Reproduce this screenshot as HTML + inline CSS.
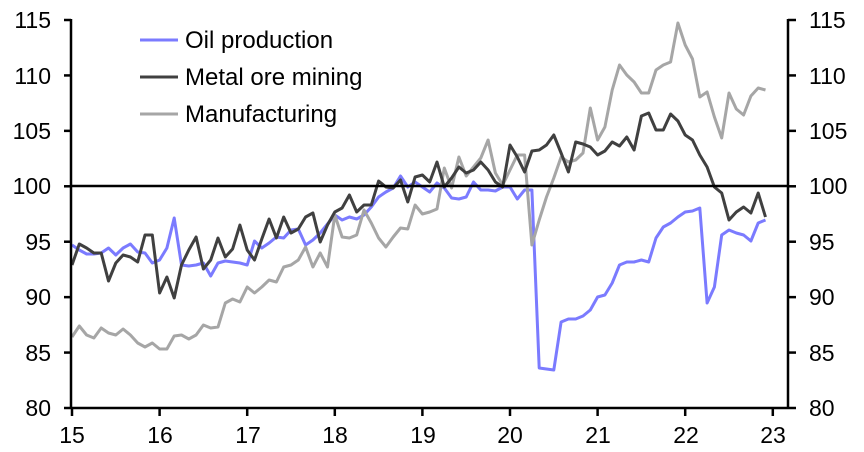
<!DOCTYPE html>
<html><head><meta charset="utf-8"><style>body{margin:0;background:#fff}svg{display:block;font-family:"Liberation Sans",Arial,sans-serif}</style></head><body>
<svg id="s" width="864" height="452" viewBox="0 0 864 452" xmlns="http://www.w3.org/2000/svg">
<g id="g"></g>
<g font-size="23" fill="#000">
<text x="51" y="28" text-anchor="end">115</text><text x="51" y="84" text-anchor="end">110</text><text x="51" y="139" text-anchor="end">105</text><text x="51" y="194" text-anchor="end">100</text><text x="51" y="250" text-anchor="end">95</text><text x="51" y="305" text-anchor="end">90</text><text x="51" y="361" text-anchor="end">85</text><text x="51" y="416" text-anchor="end">80</text>
<text x="809" y="28">115</text><text x="809" y="84">110</text><text x="809" y="139">105</text><text x="809" y="194">100</text><text x="809" y="250">95</text><text x="809" y="305">90</text><text x="809" y="361">85</text><text x="809" y="416">80</text>
<text x="72" y="443" text-anchor="middle">15</text><text x="160" y="443" text-anchor="middle">16</text><text x="248" y="443" text-anchor="middle">17</text><text x="335" y="443" text-anchor="middle">18</text><text x="423" y="443" text-anchor="middle">19</text><text x="510" y="443" text-anchor="middle">20</text><text x="598" y="443" text-anchor="middle">21</text><text x="686" y="443" text-anchor="middle">22</text><text x="773" y="443" text-anchor="middle">23</text>
</g>
<g font-size="24" fill="#000">
<text x="185" y="48">Oil production</text><text x="185" y="85">Metal ore mining</text><text x="185" y="122">Manufacturing</text>
</g>
<line x1="140" y1="40" x2="178" y2="40" stroke="#7b7bff" stroke-width="3"/>
<line x1="140" y1="77" x2="178" y2="77" stroke="#404040" stroke-width="3"/>
<line x1="140" y1="114" x2="178" y2="114" stroke="#a6a6a6" stroke-width="3"/>
</svg>
<script>
var oil=[245,250,254,254,253,248,255,248,244,252,253,263,260,248,218,265,266,265,263,276,263,261,262,263,265,241,248,243,237,238,230,229,245,240,233,224,215,220,217,219,215,207,197,192,188,176,187,182,187,192,183,188,198,199,197,182,190,190,191,187,187,199,190,190,368,369,370,322,319,319,316,310,297,295,283,265,262,262,260,262,238,227,223,217,212,211,208,303,287,235,230,233,235,241,223,220];
var met=[265,244,248,253,253,281,263,255,257,262,235,235,293,277,298,265,250,237,269,260,238,257,249,225,250,260,239,219,238,217,233,229,217,213,242,225,212,208,195,212,205,205,181,187,188,180,202,177,175,182,162,187,178,167,173,170,162,170,182,187,145,157,172,151,150,145,135,153,172,142,144,147,155,151,142,146,137,150,116,113,130,130,114,121,135,140,155,167,187,193,220,212,207,213,193,217];
var man=[337,326,335,338,328,333,335,329,335,343,347,343,349,349,336,335,339,335,325,328,327,303,299,302,287,293,287,280,282,267,265,260,247,267,253,267,215,237,238,235,210,223,238,247,237,228,229,205,214,212,209,168,188,157,176,167,158,140,173,185,170,155,155,245,220,197,178,157,162,160,153,108,140,127,90,65,75,82,93,93,70,65,62,23,45,59,97,92,117,138,93,109,115,96,88,90];
var ns="http://www.w3.org/2000/svg",g=document.getElementById("g");
function el(t,a){var e=document.createElementNS(ns,t);for(var k in a)e.setAttribute(k,a[k]);g.appendChild(e);return e;}
var X0=71,X1=788,Y0=20,Y1=408;
for(var v=0;v<=7;v++){var y=Y0+v*(Y1-Y0)/7;el("line",{x1:64,x2:X0,y1:y,y2:y,stroke:"#000","stroke-width":2.5});el("line",{x1:X1,x2:X1+8,y1:y,y2:y,stroke:"#000","stroke-width":2.5});}
for(var yr=0;yr<=8;yr++){var x=72+yr*87.6;el("line",{x1:x,x2:x,y1:Y1,y2:Y1+8,stroke:"#000","stroke-width":2.5});}
function pl(d,c){el("polyline",{points:d.map(function(y,i){return (72+i*7.3).toFixed(1)+","+y}).join(" "),fill:"none",stroke:c,"stroke-width":3,"stroke-linejoin":"round"});}
pl(oil,"#7b7bff");pl(man,"#a6a6a6");pl(met,"#404040");
el("line",{x1:X0,x2:X1,y1:186,y2:186,stroke:"#000","stroke-width":2.5});
el("line",{x1:X0,x2:X0,y1:Y0-1,y2:Y1+1,stroke:"#000","stroke-width":2.5});
el("line",{x1:X1,x2:X1,y1:Y0-1,y2:Y1+1,stroke:"#000","stroke-width":2.5});
el("line",{x1:X0,x2:X1,y1:Y1,y2:Y1,stroke:"#000","stroke-width":2.5});
</script>
</body></html>
